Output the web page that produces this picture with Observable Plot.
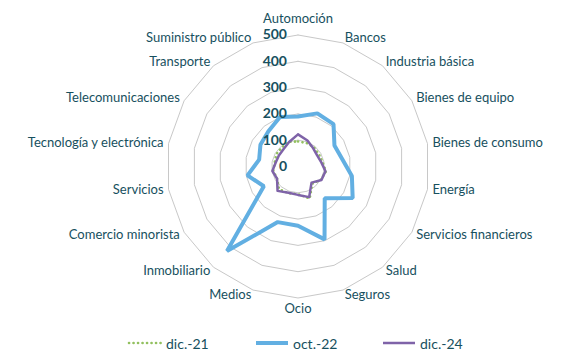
<!DOCTYPE html>
<html><head><meta charset="utf-8">
<script src="https://cdn.jsdelivr.net/npm/d3@7"></script>
<script src="https://cdn.jsdelivr.net/npm/@observablehq/plot@0.6"></script>
<style>
body{margin:0;background:#fff;font-family:Lato,"Open Sans",sans-serif;}
#wrap{width:571px;}
#legend{position:relative;width:571px;height:36px;color:#17505e;font-size:14px;}
.item{position:absolute;top:8px;display:flex;align-items:center;height:20px;}
.item svg{margin-right:4px;}
</style>
</head><body><div id="wrap"><div id="chart"></div><div id="legend"></div></div>
<script>
const categories = ["Automoción","Bancos","Industria básica","Bienes de equipo","Bienes de consumo","Energía","Servicios financieros","Salud","Seguros","Ocio","Medios","Inmobiliario","Comercio minorista","Servicios","Tecnología y electrónica","Telecomunicaciones","Transporte","Suministro público"];
const dic21 = [95, 95, 95, 92, 95, 108, 100, 85, 130, 105, 108, 112, 92, 95, 90, 95, 95, 100];
const oct22 = [190, 215, 210, 160, 170, 208, 240, 158, 295, 225, 225, 420, 150, 195, 150, 165, 175, 200];
const dic24 = [122, 105, 90, 84, 90, 106, 103, 80, 124, 108, 106, 121, 92, 99, 86, 84, 86, 99];
const ticks = [0, 100, 200, 300, 400, 500];
const seriesNames = ["dic.-21", "oct.-22", "dic.-24"];
const seriesColors = ["#92c05f", "#62afe2", "#7f63a8"];

const textColor = "#17505e";
const n = categories.length;
const ang = i => i * 2 * Math.PI / n;
const pt = (v, i) => ({x: v * Math.sin(ang(i)), y: v * Math.cos(ang(i))});
const closed = (vals, name) => d3.range(n + 1).map(k => ({...pt(vals[k % n], k % n), s: name}));

const rings = ticks.filter(t => t > 0).flatMap(t => closed(categories.map(() => t), "r" + t));
const maxT = ticks[ticks.length - 1];
const labelR = maxT + 19;
const labels = categories.map((c, i) => ({...pt(labelR, i), c, i}));
const rightL = labels.filter(d => d.i > 0 && d.i < n / 2);
const leftL = labels.filter(d => d.i > n / 2);
const topL = labels.filter(d => d.i === 0);
const botL = labels.filter(d => d.i === n / 2);
const tickLabels = ticks.map(t => ({x: 0, y: t, t}));

const chart = Plot.plot({
  width: 571, height: 325, margin: 0,
  x: {domain: [-1131.2, 1039.9], axis: null},
  y: {domain: [-604.6, 631.2], axis: null},
  style: {fontFamily: "Lato, 'Open Sans', sans-serif", fontSize: "13px", color: textColor, background: "white"},
  marks: [
    Plot.line(rings, {x: "x", y: "y", z: "s", stroke: "#c8c8c8", strokeWidth: 1}),
    Plot.line(closed(dic21, seriesNames[0]), {x: "x", y: "y", stroke: seriesColors[0], strokeWidth: 2.6, strokeDasharray: "0.1 4.4", strokeLinecap: "round"}),
    Plot.line(closed(oct22, seriesNames[1]), {x: "x", y: "y", stroke: seriesColors[1], strokeWidth: 4, strokeLinejoin: "miter"}),
    Plot.line(closed(dic24, seriesNames[2]), {x: "x", y: "y", stroke: seriesColors[2], strokeWidth: 2.5}),
    Plot.text(tickLabels, {x: "x", y: "y", text: d => String(d.t), textAnchor: "end", dx: -11, fontWeight: "bold", fontSize: 14, fill: textColor}),
    Plot.text(rightL, {x: "x", y: "y", text: "c", textAnchor: "start", fill: textColor}),
    Plot.text(leftL, {x: "x", y: "y", text: "c", textAnchor: "end", fill: textColor}),
    Plot.text(topL, {x: "x", y: "y", text: "c", textAnchor: "middle", dy: -11, fill: textColor}),
    Plot.text(botL, {x: "x", y: "y", text: "c", textAnchor: "middle", dy: 6, fill: textColor})
  ]
});
document.getElementById("chart").appendChild(chart);

// legend
const legend = document.getElementById("legend");
const lefts = [127, 254, 381];
seriesNames.forEach((name, k) => {
  const it = document.createElement("div");
  it.className = "item";
  it.style.left = lefts[k] + "px";
  const w = 35;
  const dash = k === 0 ? 'stroke-dasharray="0.1 4.4" stroke-linecap="round"' : "";
  const sw = k === 0 ? 2.6 : (k === 1 ? 4 : 2.5);
  it.innerHTML = `<svg width="${w}" height="10"><line x1="2" x2="${w-1}" y1="5" y2="5" stroke="${seriesColors[k]}" stroke-width="${sw}" ${dash}/></svg><span>${name}</span>`;
  legend.appendChild(it);
});
</script>
</body></html>
